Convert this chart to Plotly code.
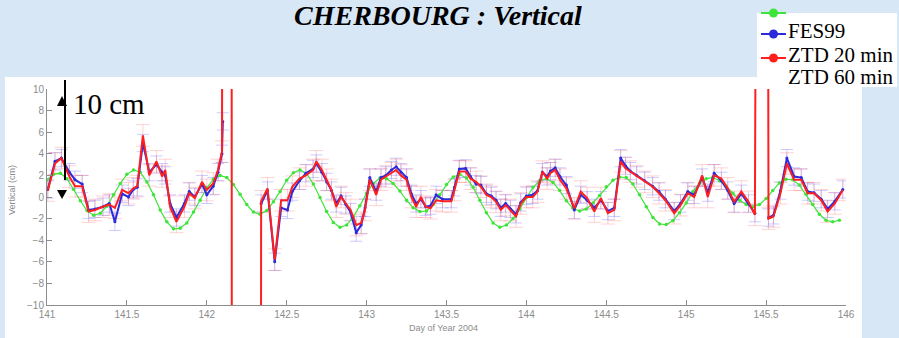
import plotly.graph_objects as go

# ---- figure geometry (pixels) ----
W, H = 899, 338
L, R, T, B = 47, 846, 89, 305


def fx(p):
    """pixel column -> paper x"""
    return (p - L) / (R - L)


def fy(p):
    """pixel row -> paper y"""
    return (B - p) / (B - T)


# ---- FES99 tide model, hourly from day 141.0 ----
fes99_start = 141.0
fes99_step = 1 / 24
fes99 = [
    1.6, 2.1, 2.2, 1.7, 0.7, -0.35, -1.25, -1.7,
    -1.5, -0.85, 0.2, 1.25, 2.1, 2.5,
    2.3, 1.4, 0.2, -1.2, -2.3, -2.95,
    -2.9, -2.4, -1.4, -0.3, 0.85, 1.65, 2.0,
    1.8, 1.15, 0.25, -0.7, -1.4, -1.6,
    -1.25, -0.45, 0.5, 1.55, 2.25, 2.5,
    2.15, 1.2, -0.05, -1.35, -2.35, -2.8,
    -2.6, -1.85, -0.8, 0.35, 1.25, 1.75,
    1.7, 1.25, 0.55, -0.3, -1.0, -1.35,
    -1.3, -0.7, 0.2, 1.15, 1.85, 2.1,
    1.75, 0.9, -0.3, -1.45, -2.4, -2.8,
    -2.6, -2.0, -1.1, -0.05, 0.9, 1.5, 1.7,
    1.35, 0.6, -0.35, -1.05, -1.3,
    -1.1, -0.55, 0.15, 0.95, 1.55, 1.85,
    1.8, 1.2, 0.2, -0.9, -1.9, -2.5, -2.55,
    -2.2, -1.45, -0.55, 0.5, 1.25, 1.7,
    1.8, 1.5, 1.0, 0.35, -0.3, -0.7, -0.9,
    -0.7, -0.15, 0.6, 1.3, 1.65,
    1.6, 1.1, 0.25, -0.7, -1.6, -2.15, -2.3, -2.15,
]
fes99_day = [fes99_start + i * fes99_step for i in range(len(fes99))]

# ---- GPS vertical solutions (day of year, cm) ----
ztd_day = [
    141.005, 141.05, 141.09, 141.14, 141.175, 141.22, 141.26, 141.30, 141.35, 141.39,
    141.425, 141.47, 141.51, 141.54, 141.565, 141.60, 141.64, 141.685, 141.72, 141.74,
    141.77, 141.81, 141.86, 141.89, 141.925, 141.97, 142.0, 142.04, 142.07, 142.095,
    142.10, 142.155, 142.157, 142.338,
    142.34, 142.38, 142.425, 142.465, 142.505, 142.535, 142.58, 142.62, 142.665, 142.685,
    142.72, 142.75, 142.78, 142.81, 142.84, 142.87, 142.90, 142.935, 142.966, 142.99,
    143.02, 143.06, 143.09, 143.12, 143.155, 143.185, 143.215, 143.25, 143.28, 143.31,
    143.34, 143.37, 143.40, 143.435, 143.475, 143.53, 143.55, 143.58, 143.62, 143.65,
    143.685, 143.715, 143.75, 143.78, 143.81, 143.84, 143.87, 143.90, 143.935, 143.965,
    144.0, 144.04, 144.07, 144.10, 144.13, 144.15, 144.18, 144.21, 144.25, 144.30,
    144.34, 144.38, 144.425, 144.466, 144.51, 144.55, 144.59, 144.62, 144.65, 144.69,
    144.74, 144.79, 144.83, 144.87, 144.925, 144.965, 145.01, 145.05, 145.10, 145.135,
    145.175, 145.22, 145.26, 145.30, 145.345, 145.39, 145.43, 145.44, 145.51, 145.515,
    145.546, 145.59, 145.63, 145.675, 145.72, 145.76, 145.80, 145.845, 145.885, 145.93,
    145.98,
]

# 60-minute solution (drawn in red); +/-40 are out-of-range outliers
ztd60 = [
    0.6, 3.1, 3.6, 1.9, 1.0, 1.0, -1.35, -1.2, -0.9, -0.7,
    -1.0, 0.65, 0.35, 0.8, 1.0, 5.7, 2.0, 3.3, 1.9, 2.5,
    -0.9, -2.3, -0.9, 0.35, -0.1, 1.4, 0.65, 1.25, 2.5, 4.2,
    40, 40, -40, -40,
    -0.4, 0.8, -5.8, -0.3, -0.3, 0.95, 1.7, 2.0, 2.5, 3.3,
    2.5, 1.6, 0.65, -0.9, 0.0, -0.6, -1.2, -2.6, -2.4, -1.2,
    1.6, 0.2, 1.6, 1.9, 2.2, 2.5, 2.0, 1.6, 0.0, -0.9,
    0.0, -0.9, -1.05, -0.3, -0.4, -0.4, 0.65, 2.35, 2.35, 1.7,
    1.4, 0.95, 0.2, 0.0, -0.45, -1.2, -0.75, -1.2, -1.8, -0.6,
    0.0, 0.0, 0.5, 2.35, 1.7, 2.2, 2.5, 1.6, 0.8, -1.05,
    0.5, -0.1, -1.35, -0.1, -1.5, -1.2, 3.3, 2.65, 2.35, 1.9,
    1.4, 0.95, 0.35, -0.3, -1.5, -0.75, 0.35, 0.0, 2.0, 0.0,
    2.0, 1.7, 0.8, -0.45, 0.5, -0.45, -1.65, 40, 40, -2.0,
    -1.8, 0.35, 3.1, 1.6, 1.6, 0.35, 0.35, -0.3, -1.35, -0.6,
    0.65,
]

# 20-minute solution (drawn in blue); None where no solution
ztd20 = [
    0.7, 3.3, 3.6, 2.3, 1.6, 1.2, -1.2, -1.1, -0.9, -0.6,
    -2.3, 0.3, 0.0, 0.7, 0.9, 5.0, 2.3, 3.0, 2.3, 2.0,
    -0.6, -1.9, -0.6, 0.5, 0.0, 1.2, 0.2, 1.0, 2.3, 4.0,
    7.0, None, None, None,
    -0.6, 0.6, -6.0, -1.0, -1.2, 0.5, 1.5, 2.2, 2.6, 3.1,
    2.3, 1.4, 0.6, -0.6, 0.1, -0.7, -1.4, -3.3, -2.6, -1.0,
    1.8, 0.5, 1.8, 2.0, 2.5, 2.8, 2.3, 1.8, 0.3, -0.6,
    -0.2, -0.9, -0.8, 0.2, -0.2, -0.2, 0.9, 2.6, 2.65, 1.9,
    1.2, 1.1, 0.3, 0.1, -0.3, -1.0, -0.6, -1.1, -1.6, -0.5,
    0.1, 0.2, 0.6, 2.3, 1.9, 2.4, 2.7, 1.9, 1.1, -1.2,
    0.2, -0.3, -1.0, -0.3, -1.3, -1.0, 3.6, 2.9, 2.4, 2.0,
    1.5, 1.0, 0.5, -0.2, -1.3, -0.6, 0.5, 0.2, 1.8, 0.4,
    2.2, 1.5, 0.6, -0.6, 0.3, -0.6, -1.5, None, None, -1.9,
    -1.7, 0.6, 3.6, 1.9, 1.8, 0.5, 0.4, -0.2, -1.1, -0.4,
    0.7,
]

# formal uncertainty of each GPS epoch (cm)
ztd20_sigma = 0.8
ztd60_sigma = 1.0

legend_labels = ["FES99", "ZTD 20 min", "ZTD 60 min"]
x_ticks = [141, 141.5, 142, 142.5, 143, 143.5, 144, 144.5, 145, 145.5, 146]
y_ticks = [-10, -8, -6, -4, -2, 0, 2, 4, 6, 8, 10]

GREEN = "#3fe43a"
BLUE = "#2b2bdc"
RED = "#ff1f1f"
AXIS_GREY = "#8c8c8c"

fig = go.Figure()

# uncertainty ticks, drawn faintly underneath everything
fig.add_trace(go.Scatter(
    x=ztd_day, y=ztd20, mode="none",
    error_y=dict(type="constant", value=ztd20_sigma, color="rgba(70,70,255,0.35)",
                 thickness=0.8, width=6),
    showlegend=False, hoverinfo="skip",
))
fig.add_trace(go.Scatter(
    x=ztd_day, y=ztd60, mode="none",
    error_y=dict(type="constant", value=ztd60_sigma, color="rgba(255,70,70,0.3)",
                 thickness=0.8, width=7),
    showlegend=False, hoverinfo="skip",
))

fig.add_trace(go.Scatter(
    x=fes99_day, y=fes99, mode="lines+markers",
    line=dict(color=GREEN, width=1.2),
    marker=dict(color=GREEN, size=3.5),
    showlegend=False,
))
fig.add_trace(go.Scatter(
    x=ztd_day, y=ztd20, mode="lines+markers",
    line=dict(color=BLUE, width=2),
    marker=dict(color=BLUE, size=3),
    connectgaps=False, showlegend=False,
))
fig.add_trace(go.Scatter(
    x=ztd_day, y=ztd60, mode="lines",
    line=dict(color=RED, width=2),
    showlegend=False,
))

shapes = []
# white panel behind the axes
shapes.append(dict(type="rect", xref="paper", yref="paper",
                   x0=fx(5), x1=fx(862), y0=fy(338), y1=fy(77),
                   fillcolor="white", line=dict(width=0), layer="below"))
# legend box
shapes.append(dict(type="rect", xref="paper", yref="paper",
                   x0=fx(757), x1=fx(897), y0=fy(87), y1=fy(13),
                   fillcolor="white", line=dict(width=0), layer="below"))

# legend swatches: line with a dot
for row_y, col in [(13, GREEN), (34, BLUE), (58, RED)]:
    shapes.append(dict(type="line", xref="paper", yref="paper",
                       x0=fx(761), x1=fx(786), y0=fy(row_y), y1=fy(row_y),
                       line=dict(color=col, width=2)))
    shapes.append(dict(type="circle", xref="paper", yref="paper",
                       x0=fx(769), x1=fx(778), y0=fy(row_y + 4.5), y1=fy(row_y - 4.5),
                       fillcolor=col, line=dict(color=col, width=0)))

# 10 cm scale bar with arrowheads
shapes.append(dict(type="line", xref="paper", yref="paper",
                   x0=fx(65), x1=fx(65), y0=fy(80), y1=fy(180),
                   line=dict(color="black", width=2)))
shapes.append(dict(type="path", xref="paper", yref="paper",
                   path=f"M {fx(57)} {fy(106)} L {fx(67)} {fy(106)} L {fx(62)} {fy(96)} Z",
                   fillcolor="black", line=dict(width=0)))
shapes.append(dict(type="path", xref="paper", yref="paper",
                   path=f"M {fx(57)} {fy(190)} L {fx(67)} {fy(190)} L {fx(62)} {fy(199)} Z",
                   fillcolor="black", line=dict(width=0)))

annotations = []
annotations.append(dict(
    text="<b><i>CHERBOURG : Vertical</i></b>", xref="paper", yref="paper",
    x=fx(438), y=fy(-2), xanchor="center", yanchor="top", showarrow=False,
    font=dict(family="Liberation Serif", size=28, color="black"),
))
for txt, cy in zip(legend_labels, [31, 55, 77]):
    annotations.append(dict(
        text=txt, xref="paper", yref="paper", x=fx(786), y=fy(cy),
        xanchor="left", yanchor="middle", showarrow=False,
        font=dict(family="Liberation Serif", size=21, color="black"),
    ))
annotations.append(dict(
    text="10 cm", xref="paper", yref="paper", x=fx(71), y=fy(104),
    xanchor="left", yanchor="middle", showarrow=False,
    font=dict(family="Liberation Serif", size=29, color="black"),
))
annotations.append(dict(
    text="Day of Year 2004", xref="paper", yref="paper", x=fx(443), y=fy(328),
    xanchor="center", yanchor="middle", showarrow=False,
    font=dict(family="Liberation Sans", size=9, color=AXIS_GREY),
))
annotations.append(dict(
    text="Vertical (cm)", xref="paper", yref="paper", x=fx(12), y=fy(190),
    xanchor="center", yanchor="middle", showarrow=False, textangle=-90,
    font=dict(family="Liberation Sans", size=9, color=AXIS_GREY),
))

fig.update_layout(
    width=W, height=H,
    margin=dict(l=L, r=W - R, t=T, b=H - B, pad=0),
    paper_bgcolor="#d8e7f6",
    plot_bgcolor="white",
    shapes=shapes,
    annotations=annotations,
    showlegend=False,
)
fig.update_xaxes(
    range=[141, 146], tickvals=x_ticks, ticks="inside", ticklen=5,
    tickcolor=AXIS_GREY, showline=True, linecolor=AXIS_GREY, linewidth=1,
    showgrid=False, zeroline=False, mirror=False,
    tickfont=dict(family="Liberation Sans", size=10, color=AXIS_GREY),
)
fig.update_yaxes(
    range=[-10, 10], tickvals=y_ticks, ticks="inside", ticklen=5,
    tickcolor=AXIS_GREY, showline=True, linecolor=AXIS_GREY, linewidth=1,
    showgrid=False, zeroline=False, mirror=False,
    tickfont=dict(family="Liberation Sans", size=10, color=AXIS_GREY),
)

fig.write_html("out.html")
